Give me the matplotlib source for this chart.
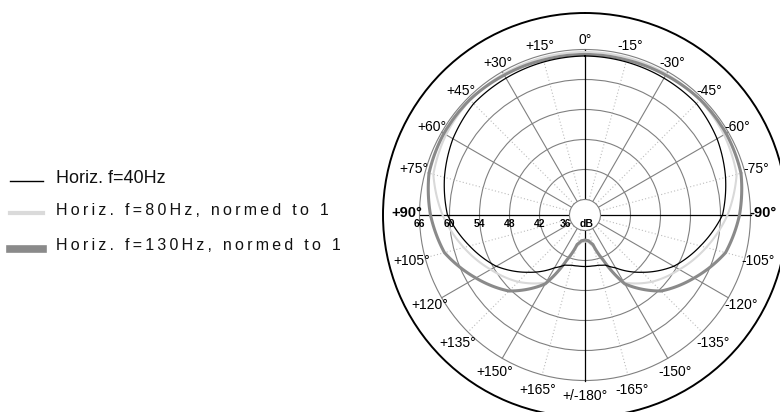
import numpy as np
import matplotlib.pyplot as plt
from matplotlib.lines import Line2D
from matplotlib.transforms import offset_copy

plt.rcParams['font.family'] = ['Liberation Sans', 'DejaVu Sans']

# readings for the left half (0 = front, 180 = back); the right half is the mirror
angles = [0, 15, 30, 45, 60, 75, 90, 105, 120, 135, 150, 158, 165, 172, 180]
db_40 = [64.7, 64.6, 64.5, 64.4, 63.4, 62.0, 60.4, 56.8, 53.4, 49.1, 45.1, 43.7, 43.3, 43.2, 43.2]
db_80 = [65.5, 65.5, 65.5, 65.4, 65.0, 64.3, 61.4, 58.0, 54.7, 51.8, 48.5, 42.8, 39.4, 38.4, 38.2]
db_130 = [65.0, 65.0, 65.2, 65.5, 65.5, 65.2, 63.8, 62.0, 58.1, 54.4, 48.8, 42.6, 39.0, 38.1, 37.9]

series_names = ['Horiz. f=40Hz', 'Horiz. f=80Hz, normed to 1', 'Horiz. f=130Hz, normed to 1']
ring_db = [66, 60, 54, 48, 42, 36]
tick_angles = [0, 15, 30, 45, 60, 75, 90, 105, 120, 135, 150, 165, 180,
               -165, -150, -135, -120, -105, -90, -75, -60, -45, -30, -15]
tick_labels = ['0°', '+15°', '+30°', '+45°', '+60°', '+75°', '+90°', '+105°', '+120°',
               '+135°', '+150°', '+165°', '+/-180°', '-165°', '-150°', '-135°', '-120°',
               '-105°', '-90°', '-75°', '-60°', '-45°', '-30°', '-15°']

fig = plt.figure(figsize=(7.8, 4.12), dpi=100)
ax = fig.add_axes([383 / 780, -5 / 412, 404 / 780, 404 / 412], projection='polar')
ax.set_theta_zero_location('N')
ax.set_theta_direction(1)
ax.set_ylim(36, 73.3)
ax.set_rorigin(32.9)
ax.set_xticks([])
ax.set_yticks(ring_db[:-1])
ax.set_yticklabels([])
ax.yaxis.grid(True, color='#808080', lw=0.8)
ax.spines['polar'].set_linewidth(1.4)
ax.spines['inner'].set_color('#808080')
ax.spines['inner'].set_linewidth(0.8)

# radial lines, stopping at the 66 dB ring
for a in range(0, 360, 15):
    t = np.deg2rad(a)
    if a % 90 == 0:
        ax.plot([t, t], [36, 66], color='black', lw=0.9, zorder=2)
    elif a % 30 == 0:
        ax.plot([t, t], [36, 66], color='#808080', lw=0.8, zorder=2)
    else:
        ax.plot([t, t], [36, 66], color='#bdbdbd', lw=0.8, ls=(0, (1, 2)), zorder=2)

th = np.deg2rad(angles + [360 - a for a in angles[-2::-1]])
curves = [(db_80, '#d9d9d9', 1.5), (db_130, '#8a8a8a', 2.2), (db_40, 'black', 0.9)]
for vals, c, w in curves:
    line, = ax.plot(th, vals + vals[-2::-1], color=c, lw=w, zorder=3)
    line.get_path()._interpolation_steps = 12

for a, lab in zip(tick_angles, tick_labels):
    t = np.deg2rad(a)
    r_px = 178 - 3.5 * np.cos(t)
    bold = abs(a) == 90
    tr = offset_copy(ax.transData, fig=fig, x=0, y=2 if bold else 0, units='dots')
    ax.text(t, 36 + (r_px - 15.5) / 5, lab, transform=tr, ha='center', va='center',
            fontsize=10.5 if bold else 10, fontweight='bold' if bold else 'normal')

for d in ring_db:
    dx = -4 if d == 36 else 0
    tr = offset_copy(ax.transData, fig=fig, x=dx, y=-9, units='dots')
    ax.text(np.pi / 2, d, str(d), transform=tr, ha='center', va='center',
            fontsize=7.5, fontweight='bold', zorder=4)
tr = offset_copy(ax.transAxes, fig=fig, x=2, y=-9, units='dots')
ax.text(0.5, 0.5, 'dB', transform=tr, ha='center', va='center', fontsize=7.5, fontweight='bold')

# legend
leg_lines = [('black', 1.0, 181), ('#dadada', 3.0, 213), ('#8a8a8a', 5.5, 248.5)]
leg_text_y = [182.7, 215, 250]
leg_sizes = [13, 11.5, 11.5]
for i, name in enumerate(series_names):
    c, w, y = leg_lines[i]
    fig.add_artist(Line2D([10 / 780, 43 / 780], [1 - y / 412, 1 - y / 412], color=c, lw=w,
                          transform=fig.transFigure))
    label = name if i == 0 else '\u2009'.join(name)
    fig.text(56 / 780, 1 - leg_text_y[i] / 412, label, fontsize=leg_sizes[i],
             ha='left', va='baseline', color='#111111')

fig.savefig('out.png', dpi=100)
